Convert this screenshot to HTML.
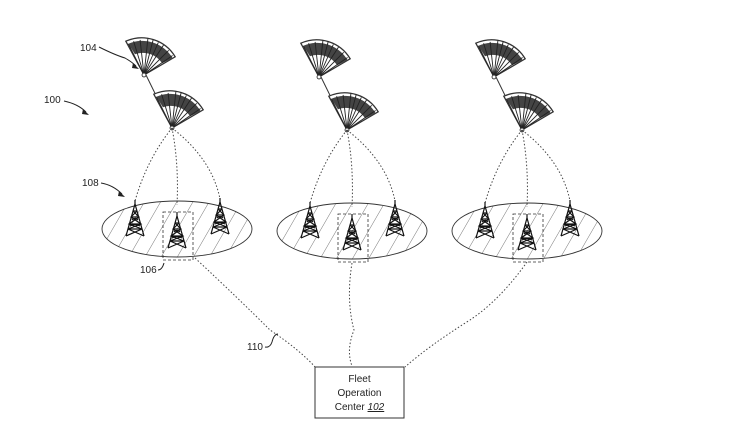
<!DOCTYPE html>
<html><head><meta charset="utf-8"><style>
html,body{margin:0;padding:0;background:#fff;}
svg{display:block}
text{font-family:"Liberation Sans",sans-serif;font-size:10px;fill:#222}
</style></head><body>
<svg width="744" height="439" viewBox="0 0 744 439" xmlns="http://www.w3.org/2000/svg">
<defs>
<pattern id="hatch" width="14" height="14" patternUnits="userSpaceOnUse" patternTransform="rotate(30)">
<line x1="0" y1="0" x2="0" y2="14" stroke="#555" stroke-width="0.8"/>
</pattern>
<g id="canopy">
<path d="M0,0 L-14,-26 A30,30 0 0 1 24,-14 Z" fill="#fff" stroke="#333" stroke-width="1"/>
<path d="M-12,-24 A27,27 0 0 1 22,-13 L14,-9 A18,18 0 0 0 -7,-16 Z" fill="#444"/>
<g stroke="#222" stroke-width="0.7">
<line x1="0" y1="0" x2="-12" y2="-24"/><line x1="0" y1="0" x2="-8" y2="-26"/><line x1="0" y1="0" x2="-3" y2="-27"/>
<line x1="0" y1="0" x2="3" y2="-28"/><line x1="0" y1="0" x2="7" y2="-27"/><line x1="0" y1="0" x2="11" y2="-25"/>
<line x1="0" y1="0" x2="15" y2="-23"/><line x1="0" y1="0" x2="19" y2="-19"/><line x1="0" y1="0" x2="22" y2="-15"/>
</g>
<circle cx="0" cy="0" r="1.5" fill="#fff" stroke="#333" stroke-width="0.7"/>
</g>
<g id="tower" stroke="#111" stroke-width="1.2" fill="none">
<line x1="0" y1="0" x2="-9" y2="32"/><line x1="0" y1="0" x2="9" y2="32"/>
<line x1="0" y1="-4" x2="0" y2="2"/>
<path d="M-2,7 L2,7 M-4,13 L4,13 M-6,20 L6,20 M-7,25 L7,25"/>
<path d="M-2,7 L4,13 L-6,20 L7,25 M2,7 L-4,13 L6,20 L-7,25 M-7,25 L9,32 M7,25 L-9,32"/>
<path d="M-3,16 q3,-3 6,0 M-5,22 q5,-3 10,0"/>
</g>
<g id="grp">
<line x1="-31" y1="-154" x2="-5" y2="-101" stroke="#333" stroke-width="1"/>
<use href="#canopy" transform="translate(-33,-154) scale(1.3)"/>
<use href="#canopy" transform="translate(-5,-101) scale(1.3)"/>
<g stroke="#444" stroke-width="1" stroke-dasharray="1.5,2" fill="none">
<path d="M-5,-101 Q-30,-70 -42,-28"/>
<path d="M-5,-101 Q2,-65 0,-24"/>
<path d="M-5,-101 Q35,-70 43,-30"/>
</g>
<ellipse cx="0" cy="0" rx="75" ry="28" fill="url(#hatch)" stroke="#333" stroke-width="0.9"/>
<rect x="-14" y="-17" width="30" height="48" fill="none" stroke="#333" stroke-width="0.8" stroke-dasharray="3,2"/>
<use href="#tower" transform="translate(-42,-25)"/>
<use href="#tower" transform="translate(0,-13)"/>
<use href="#tower" transform="translate(43,-27)"/>
</g>
</defs>
<use href="#grp" transform="translate(177,229)"/>
<use href="#grp" transform="translate(352,231)"/>
<use href="#grp" transform="translate(527,231)"/>
<g stroke="#444" stroke-width="1" stroke-dasharray="1.5,2" fill="none">
<path d="M195,258 Q240,300 270,330 Q300,350 316,368"/>
<path d="M352,263 Q346,300 354,330 Q346,350 352,366"/>
<path d="M527,262 Q500,300 470,320 Q430,345 405,367"/>
</g>
<rect x="315" y="367" width="89" height="51" fill="#fff" stroke="#333" stroke-width="1"/>
<text x="359.5" y="382" text-anchor="middle">Fleet</text>
<text x="359.5" y="396" text-anchor="middle">Operation</text>
<text x="359.5" y="410" text-anchor="middle">Center <tspan font-style="italic" text-decoration="underline">102</tspan></text>
<text x="80" y="51">104</text>
<text x="44" y="103">100</text>
<text x="82" y="186">108</text>
<text x="140" y="273">106</text>
<text x="247" y="350">110</text>
<g stroke="#222" stroke-width="1" fill="none">
<path d="M99,47 Q115,55 125,58 Q132,62 136,66"/>
<path d="M64,101 Q78,104 86,112"/>
<path d="M101,183 Q113,185 122,194"/>
<path d="M158,270 Q162,270 164,263"/>
<path d="M265,347 Q270,348 272,342 Q274,334 278,334"/>
</g>
<g fill="#222"><path d="M133,63 L139,69 L132,68Z"/><path d="M83,109 L89,115 L82,114Z"/><path d="M119,191 L125,197 L118,196Z"/></g>
</svg>
</body></html>
